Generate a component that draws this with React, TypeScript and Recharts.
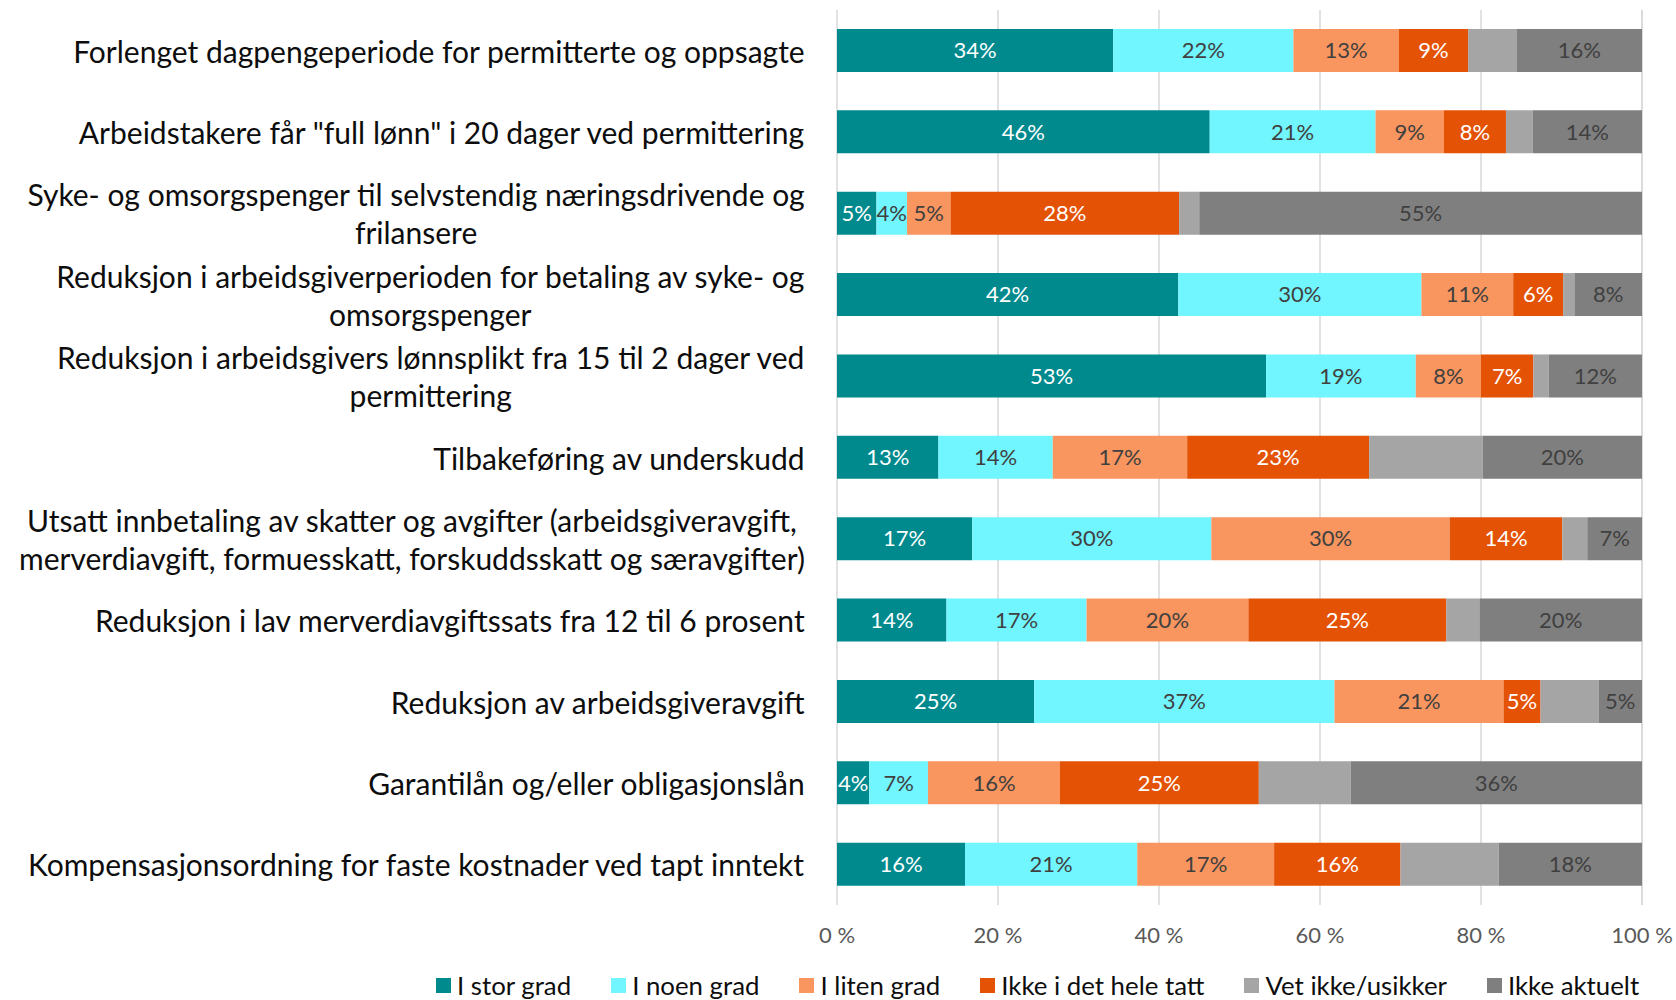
import React from "react";
import { BarChart, Bar, XAxis, YAxis, CartesianGrid, Legend, LabelList } from "recharts";

const categories = [
  "Forlenget dagpengeperiode for permitterte og oppsagte",
  'Arbeidstakere får "full lønn" i 20 dager ved permittering',
  "Syke- og omsorgspenger til selvstendig næringsdrivende og\nfrilansere",
  "Reduksjon i arbeidsgiverperioden for betaling av syke- og\nomsorgspenger",
  "Reduksjon i arbeidsgivers lønnsplikt fra 15 til 2 dager ved\npermittering",
  "Tilbakeføring av underskudd",
  "Utsatt innbetaling av skatter og avgifter (arbeidsgiveravgift,\nmerverdiavgift, formuesskatt, forskuddsskatt og særavgifter)",
  "Reduksjon i lav merverdiavgiftssats fra 12 til 6 prosent",
  "Reduksjon av arbeidsgiveravgift",
  "Garantilån og/eller obligasjonslån",
  "Kompensasjonsordning for faste kostnader ved tapt inntekt",
];

const iStorGrad = [34.3, 46.3, 4.9, 42.4, 53.3, 12.6, 16.8, 13.6, 24.5, 4.0, 15.9];
const iNoenGrad = [22.4, 20.6, 3.8, 30.2, 18.6, 14.2, 29.7, 17.4, 37.3, 7.3, 21.4];
const iLitenGrad = [13.1, 8.5, 5.4, 11.4, 8.1, 16.7, 29.6, 20.1, 21.0, 16.4, 17.0];
const ikkeIDetHeleTatt = [8.6, 7.7, 28.4, 6.2, 6.5, 22.6, 14.0, 24.6, 4.6, 24.7, 15.7];
const vetIkke = [6.0, 3.3, 2.5, 1.4, 1.9, 14.1, 3.1, 4.1, 7.2, 11.4, 12.2];
const ikkeAktuelt = [15.6, 13.6, 55.0, 8.4, 11.6, 19.8, 6.8, 20.2, 5.4, 36.2, 17.8];

const xTicks = [0, 20, 40, 60, 80, 100];

const seriesNames = ["I stor grad", "I noen grad", "I liten grad", "Ikke i det hele tatt", "Vet ikke/usikker", "Ikke aktuelt"];
const seriesColors = ["#008A8E", "#71F5FE", "#F9955E", "#E35205", "#A5A5A5", "#7F7F7F"];
const labelColors = ["#FFFFFF", "#404040", "#404040", "#FFFFFF", "", "#404040"];
const seriesValues = [iStorGrad, iNoenGrad, iLitenGrad, ikkeIDetHeleTatt, vetIkke, ikkeAktuelt];

const data = categories.map((name, i) => {
  const row: Record<string, any> = { name };
  seriesValues.forEach((vals, s) => {
    row["s" + s] = vals[i];
  });
  return row;
});

const FONT = "Lato, 'Noto Sans', sans-serif";
const CAT_SIZE = 30;

let ctx: CanvasRenderingContext2D | null = null;
function measure(text: string, size: number) {
  if (!ctx) {
    const c = document.createElement("canvas");
    ctx = c.getContext("2d");
  }
  if (!ctx) return text.length * size * 0.5;
  ctx.font = `${size}px Lato`;
  return ctx.measureText(text).width;
}

function CategoryTick(props: any) {
  const { x, y, payload } = props;
  const lines = String(payload.value).split("\n");
  const widths = lines.map((l) => measure(l, CAT_SIZE));
  const maxW = Math.max(...widths);
  const cx = x - maxW / 2;
  const lh = 38;
  const y0 = y - ((lines.length - 1) * lh) / 2;
  return (
    <g>
      {lines.map((l, i) => (
        <text
          key={i}
          x={cx}
          y={y0 + i * lh}
          textAnchor="middle"
          dominantBaseline="central"
          fontFamily={FONT}
          fontSize={CAT_SIZE}
          fill="#0D0D0D"
        >
          {l}
        </text>
      ))}
    </g>
  );
}

function renderLegend() {
  return (
    <div
      style={{
        display: "flex",
        alignItems: "center",
        height: 30,
        paddingLeft: 436,
        fontFamily: FONT,
        fontSize: 25.8,
        color: "#0D0D0D",
        whiteSpace: "nowrap",
      }}
    >
      {seriesNames.map((n, i) => (
        <div key={n} style={{ display: "flex", alignItems: "center", marginRight: 40 }}>
          <div style={{ width: 15, height: 15, background: seriesColors[i], marginRight: 6 }} />
          <span>{n}</span>
        </div>
      ))}
    </div>
  );
}

export default function App() {
  return (
    <div style={{ position: "absolute", left: 0, top: 0, width: 1676, height: 1000, background: "#fff" }}>
      <BarChart
        width={1676}
        height={1000}
        data={data}
        layout="vertical"
        margin={{ top: 10, right: 34, left: 0, bottom: 0 }}
        barSize={43}
      >
        <CartesianGrid horizontal={false} stroke="#D9D9D9" strokeWidth={1.5} />
        <XAxis
          type="number"
          domain={[0, 100]}
          ticks={xTicks}
          tickFormatter={(v: number) => `${v} %`}
          axisLine={false}
          tickLine={false}
          tickSize={0}
          tickMargin={22}
          height={65}
          tick={{ fontFamily: FONT, fontSize: 22, fill: "#595959" }}
          interval={0}
        />
        <YAxis
          type="category"
          dataKey="name"
          width={837}
          axisLine={false}
          tickLine={false}
          tickSize={0}
          tickMargin={32}
          interval={0}
          tick={<CategoryTick />}
        />
        <Legend verticalAlign="bottom" align="left" content={renderLegend} />
        {seriesNames.map((n, s) => (
          <Bar
            key={n}
            dataKey={"s" + s}
            name={n}
            stackId="a"
            fill={seriesColors[s]}
            isAnimationActive={false}
          >
            {labelColors[s] ? (
              <LabelList
                dataKey={"s" + s}
                position="center"
                formatter={(v: any) => `${Math.round(Number(v))}%`}
                fill={labelColors[s]}
                fontFamily={FONT}
                fontSize={22}
              />
            ) : null}
          </Bar>
        ))}
      </BarChart>
    </div>
  );
}
